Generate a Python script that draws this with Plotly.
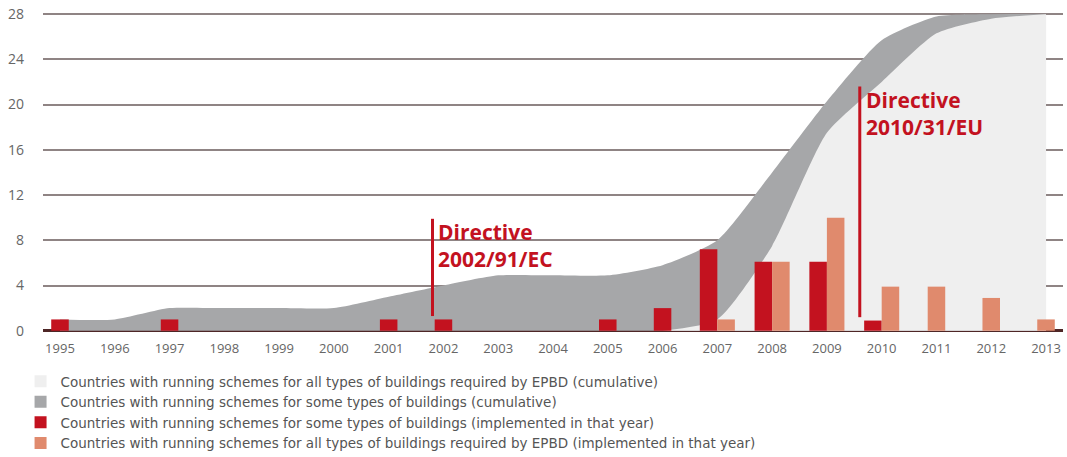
import plotly.graph_objects as go

years = list(range(1995, 2014))

# cumulative: all countries with any scheme (upper edge of dark grey band)
cum_some = [1, 1, 2, 2, 2, 2, 3, 4, 4.9, 4.9, 4.9, 5.8, 8, 14, 20.3, 25.7, 27.8, 28, 28]
# cumulative: countries with schemes for all building types (light grey)
cum_all = [None] * 11 + [0, 1, 7.5, 17.5, 22, 26.3, 27.6, 28]

# implemented in that year
some_year = [1, 0, 1, 0, 0, 0, 1, 1, 0, 0, 1, 2, 7.2, 6.1, 6.1, 0.9, 0, 0, 0]
all_year = [0, 0, 0, 0, 0, 0, 0, 0, 0, 0, 0, 0, 1, 6.1, 10, 3.9, 3.9, 2.9, 1]

directives = [
    {"year": 2001.8, "top": 9.9, "bottom": 1.3, "text": "Directive<br>2002/91/EC"},
    {"year": 2009.6, "top": 21.6, "bottom": 1.2, "text": "Directive<br>2010/31/EU"},
]

labels = [
    "Countries with running schemes for all types of buildings required by EPBD (cumulative)",
    "Countries with running schemes for some types of buildings (cumulative)",
    "Countries with running schemes for some types of buildings (implemented in that year)",
    "Countries with running schemes for all types of buildings required by EPBD (implemented in that year)",
]

RED = "#c3121f"
PEACH = "#e08a6d"
DARK = "#a6a7a9"
LIGHT = "#efefef"
W = 0.32
XR = [1994.69, 2013.31]
YR = [-0.2, 28.1]

fig = go.Figure()

fig.add_trace(go.Scatter(
    x=years, y=cum_some, mode="lines", fill="tozeroy",
    line=dict(width=0, shape="spline", smoothing=0.6, color=DARK),
    fillcolor=DARK, showlegend=False, hoverinfo="skip",
))
fig.add_trace(go.Scatter(
    x=years, y=cum_all, mode="lines", fill="tozeroy",
    line=dict(width=0, shape="spline", smoothing=0.6, color=LIGHT),
    fillcolor=LIGHT, showlegend=False, hoverinfo="skip",
))

# bars go on an overlaid axis pair so they are drawn above the areas
red_off = [-W if a > 0 else -W / 2 for a in all_year]
peach_off = [0 if s > 0 else -W / 2 for s in some_year]

fig.add_trace(go.Bar(
    x=years, y=[v if v > 0 else None for v in some_year], width=W, offset=red_off,
    marker=dict(color=RED, line_width=0), showlegend=False, xaxis="x2", yaxis="y2",
))
fig.add_trace(go.Bar(
    x=years, y=[v if v > 0 else None for v in all_year], width=W, offset=peach_off,
    marker=dict(color=PEACH, line_width=0), showlegend=False, xaxis="x2", yaxis="y2",
))

# legend-only entries with square swatches
for name, col in zip(labels, [LIGHT, DARK, RED, PEACH]):
    fig.add_trace(go.Bar(x=[None], y=[None], name=name, xaxis="x2", yaxis="y2",
                         marker=dict(color=col, line_width=0)))

for d in directives:
    fig.add_shape(type="line", x0=d["year"], x1=d["year"], y0=d["bottom"], y1=d["top"],
                  line=dict(color=RED, width=3))
    fig.add_annotation(x=d["year"], y=d["top"], text="<b>" + d["text"] + "</b>",
                       xanchor="left", yanchor="top", xshift=4, yshift=3, showarrow=False,
                       align="left", font=dict(color=RED, size=21, family="Open Sans"))

fig.update_layout(
    width=1067, height=457,
    margin=dict(l=43, r=4, t=13, b=124, autoexpand=False),
    paper_bgcolor="white", plot_bgcolor="white",
    barmode="overlay",
    font=dict(family="Open Sans", color="#666666", size=13),
    legend=dict(x=-0.022, y=-0.103, xanchor="left", yanchor="top",
                font=dict(size=13.5, color="#555555", family="DejaVu Sans"), tracegroupgap=0,
                itemwidth=30, bgcolor="rgba(0,0,0,0)"),
    xaxis=dict(range=XR, tickmode="array", tickvals=years,
               ticktext=[str(y) for y in years], showgrid=False, zeroline=False,
               ticks="", showline=False, automargin=False, ticklabelstandoff=6,
               tickfont=dict(size=13, color="#666666")),
    yaxis=dict(range=YR, tickvals=list(range(0, 29, 4)), showgrid=True,
               gridcolor="#8f8484", gridwidth=1.5, zeroline=False,
               ticks="", ticklabelstandoff=18, automargin=False,
               tickfont=dict(size=14, color="#666666")),
    xaxis2=dict(range=XR, overlaying="x", visible=False, automargin=False),
    yaxis2=dict(range=YR, overlaying="y", showgrid=False, showticklabels=False,
                zeroline=True, zerolinecolor="#4e2626", zerolinewidth=3,
                ticks="", automargin=False),
)

# the page body has a default 8px margin; drop it so the figure sits at 0,0
fig.write_html("out.html", config={"displayModeBar": False},
               post_script="document.body.style.margin='0';")
